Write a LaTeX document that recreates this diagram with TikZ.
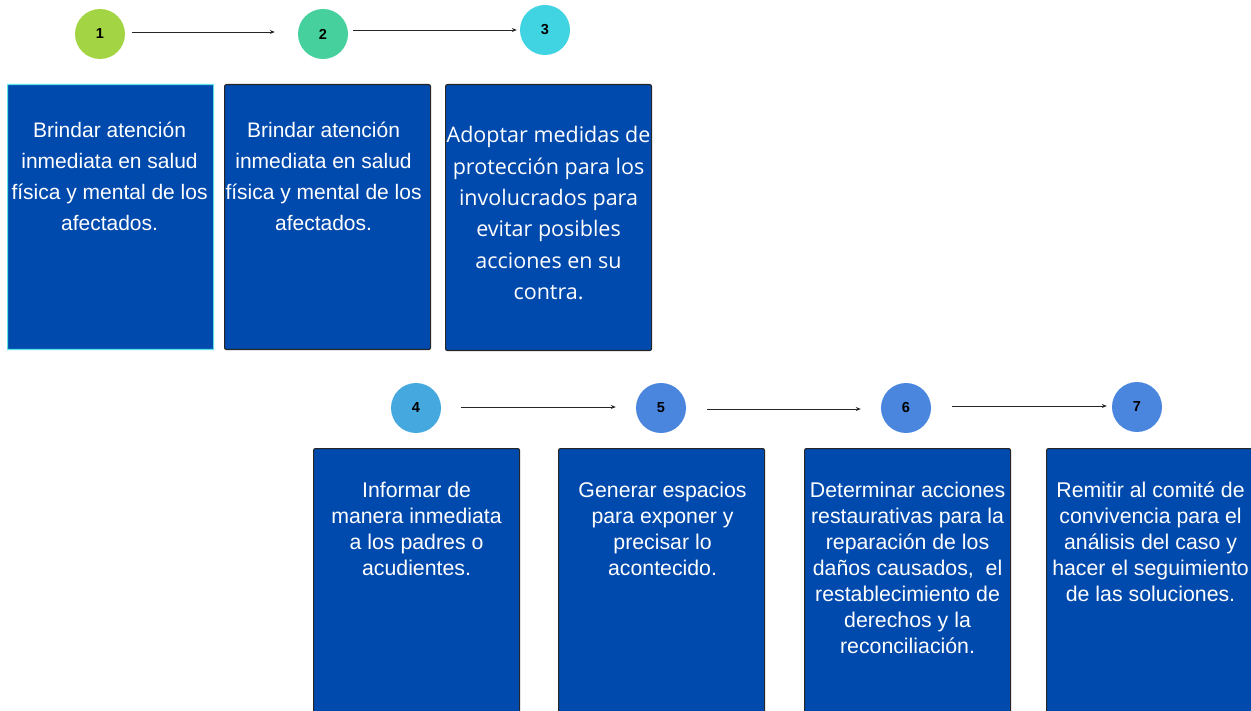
\documentclass[tikz,border=0pt]{standalone}
\usepackage{fontspec}
\setmainfont{Liberation Sans}
\newfontfamily\opensans{Open Sans}
\usetikzlibrary{arrows.meta}
\definecolor{boxblue}{HTML}{004AAD}
\definecolor{cyanedge}{HTML}{5CE1E6}
\definecolor{cA}{HTML}{A3D443}
\definecolor{cB}{HTML}{45D09E}
\definecolor{cC}{HTML}{40D4E2}
\definecolor{cD}{HTML}{45A9E0}
\definecolor{cE}{HTML}{4A85DE}
\tikzset{
  numc/.style={circle, minimum size=50pt, inner sep=0pt, font=\fontsize{14.5}{16}\selectfont\bfseries, text=black},
  bluebox/.style={rectangle, fill=boxblue, draw=black!85, line width=1.1pt, rounded corners=2pt, minimum width=206pt, anchor=north west, inner sep=0pt},
  firstbox/.style={bluebox, draw=cyanedge, rounded corners=0.5pt},
  txttop/.style={anchor=base, inner sep=0pt, text=white, font=\fontsize{21}{31}\selectfont},
  txtbot/.style={anchor=base, inner sep=0pt, text=white, font=\fontsize{21.3}{26}\selectfont},
  txtthree/.style={anchor=base, inner sep=0pt, text=white, font=\opensans\fontsize{21.5}{31.3}\selectfont},
  arr/.style={-{Stealth[length=5pt,width=4pt]}, line width=0.8pt, draw=black!85}
}
\newcommand{\ctext}[1]{\parbox[t]{260pt}{\centering #1}}
\begin{document}
\begin{tikzpicture}[x=1pt,y=-1pt]
\useasboundingbox (0,0) rectangle (1251,711);
% circles
\node[numc, fill=cA] (c1) at (100,34) {1};
\node[numc, fill=cB] (c2) at (323,34) {2};
\node[numc, fill=cC] (c3) at (545,30) {3};
\node[numc, fill=cD] (c4) at (416,408) {4};
\node[numc, fill=cE] (c5) at (661,408) {5};
\node[numc, fill=cE] (c6) at (906,408) {6};
\node[numc, fill=cE] (c7) at (1137,407) {7};
% arrows
\draw[arr] ([xshift=7pt,yshift=2pt]c1.east) -- ([xshift=-23pt,yshift=2pt]c2.west);
\draw[arr] ([xshift=5pt,yshift=4pt]c2.east) -- ([xshift=-3pt]c3.west);
\draw[arr] ([xshift=20pt,yshift=1pt]c4.east) -- ([xshift=-20pt,yshift=1pt]c5.west);
\draw[arr] ([xshift=21pt,yshift=-1pt]c5.east) -- ([xshift=-20pt,yshift=-1pt]c6.west);
\draw[arr] ([xshift=21pt,yshift=2pt]c6.east) -- ([xshift=-5pt,yshift=1pt]c7.west);
% boxes row 1
\node[firstbox, minimum height=265pt] (b1) at (7,84) {};
\node[bluebox, minimum height=265pt] (b2) at (224,84) {};
\node[bluebox, minimum height=266pt] (b3) at (445,84) {};
% boxes row 2
\node[bluebox, minimum height=290pt] (b4) at (313,448) {};
\node[bluebox, minimum height=290pt] (b5) at (558,448) {};
\node[bluebox, minimum height=290pt] (b6) at (804,448) {};
\node[bluebox, minimum height=290pt] (b7) at (1046,448) {};
% texts
\node[txttop] (t1) at ([xshift=-1pt,yshift=-54pt]b1.north) {\ctext{Brindar atención\\inmediata en salud\\física y mental de los\\afectados.}};
\node[txttop] (t2) at ([xshift=-4pt,yshift=-54pt]b2.north) {\ctext{Brindar atención\\inmediata en salud\\física y mental de los\\afectados.}};
\node[txtthree] (t3) at ([xshift=0pt,yshift=-59pt]b3.north) {\ctext{Adoptar medidas de\\protección para los\\involucrados para\\evitar posibles\\acciones en su\\contra.}};
\node[txtbot] (t4) at ([yshift=-49pt]b4.north) {\ctext{Informar de\\manera inmediata\\a los padres o\\acudientes.}};
\node[txtbot] (t5) at ([xshift=1pt,yshift=-49pt]b5.north) {\ctext{Generar espacios\\para exponer y\\precisar lo\\acontecido.}};
\node[txtbot] (t6) at ([yshift=-49pt]b6.north) {\ctext{Determinar acciones\\restaurativas para la\\reparación de los\\daños causados,\ \ el\\restablecimiento de\\derechos y la\\reconciliación.}};
\node[txtbot] (t7) at ([xshift=1pt,yshift=-49pt]b7.north) {\ctext{Remitir al comité de\\convivencia para el\\análisis del caso y\\hacer el seguimiento\\de las soluciones.}};
\end{tikzpicture}
\end{document}
